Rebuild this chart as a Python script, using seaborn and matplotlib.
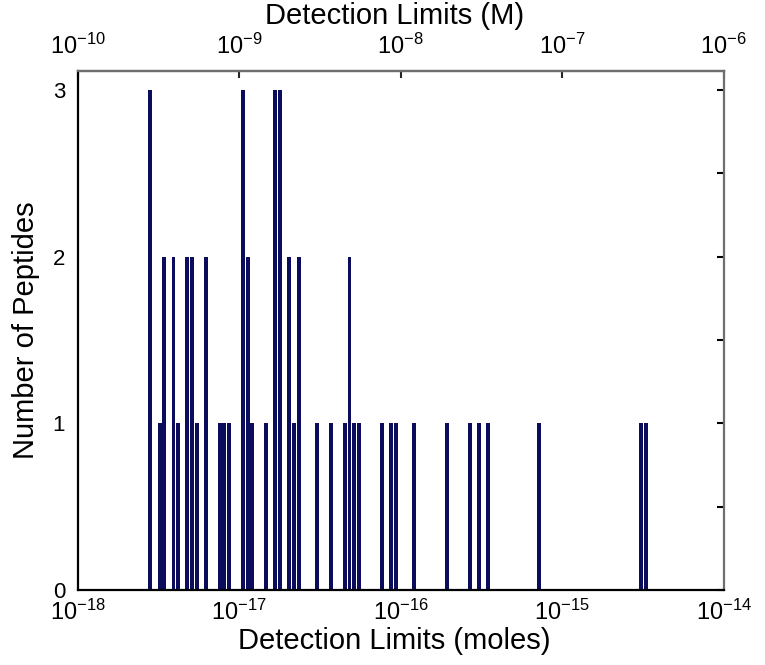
import numpy as np
import pandas as pd
import matplotlib
matplotlib.use("Agg")
import matplotlib.pyplot as plt
import seaborn as sns
from matplotlib.ticker import NullLocator, MultipleLocator, FixedLocator

# --- data: detection limit (moles) and number of peptides ---
limits_moles = [2.82e-18, 3.22e-18, 3.44e-18, 3.92e-18, 4.19e-18, 4.78e-18, 5.11e-18,
                5.45e-18, 6.22e-18, 7.59e-18, 8.10e-18, 8.66e-18, 1.05e-17, 1.13e-17,
                1.20e-17, 1.47e-17, 1.68e-17, 1.79e-17, 2.04e-17, 2.18e-17, 2.33e-17,
                3.04e-17, 3.70e-17, 4.51e-17, 4.82e-17, 5.15e-17, 5.50e-17, 7.65e-17,
                8.73e-17, 9.32e-17, 1.21e-16, 1.93e-16, 2.68e-16, 3.06e-16, 3.49e-16,
                7.22e-16, 3.08e-15, 3.29e-15]
n_peptides = [3, 1, 2, 2, 1, 2, 2,
              1, 2, 1, 1, 1, 3, 2,
              1, 1, 3, 3, 2, 1, 2,
              1, 1, 1, 2, 1, 1, 1,
              1, 1, 1, 1, 1, 1, 1,
              1, 1, 1]
moles_ticks = [1e-18, 1e-17, 1e-16, 1e-15, 1e-14]
molar_ticks = [1e-10, 1e-9, 1e-8, 1e-7, 1e-6]
count_ticks = [0, 1, 2, 3]
sample_volume_l = 1e-8  # moles -> M on the top axis

df = pd.DataFrame({"limit": limits_moles, "count": n_peptides})

sns.set_style("white")
plt.rcParams["font.family"] = ["Liberation Sans", "DejaVu Sans"]
plt.rcParams["mathtext.default"] = "regular"

fig = plt.figure(figsize=(7.65, 6.65), dpi=100)
ax = fig.add_axes([0.1015, 0.1128, 0.8445, 0.7805])

# log-spaced bins (~0.0287 decades wide), matlab-style hist
bw = 0.02867
start = np.log10(limits_moles[0]) - bw / 2
sns.histplot(data=df, x="limit", weights="count", log_scale=True,
             binwidth=bw, binrange=(start, start + 108 * bw), shrink=0.85,
             color="#0b0d5c", alpha=1, linewidth=0, edgecolor="none", ax=ax)

ax.set_xlim(moles_ticks[0], moles_ticks[-1])
ax.set_ylim(0, 3.114)
ax.xaxis.set_major_locator(FixedLocator(moles_ticks))
ax.xaxis.set_minor_locator(NullLocator())
ax.yaxis.set_major_locator(FixedLocator(count_ticks))
ax.yaxis.set_minor_locator(MultipleLocator(0.5))
ax.set_yticklabels([str(t) for t in count_ticks])

ax.tick_params(axis="both", which="both", direction="in", length=5, width=1.5,
               top=False, right=True, color="black", labelcolor="black")
ax.tick_params(axis="x", labelsize=17, pad=7)
ax.tick_params(axis="y", labelsize=16, pad=9)

ax.set_xlabel("Detection Limits (moles)", fontsize=21, color="black")
ax.xaxis.set_label_coords(0.49, -0.072)
ax.set_ylabel("Number of Peptides", fontsize=21, labelpad=9, color="black")

for side in ["left", "bottom"]:
    ax.spines[side].set_color("black")
    ax.spines[side].set_linewidth(1.6)
for side in ["top", "right"]:
    ax.spines[side].set_color("#6e6e6e")
    ax.spines[side].set_linewidth(1.6)

# top axis in molar concentration
secax = ax.secondary_xaxis("top", functions=(lambda x: x / sample_volume_l,
                                             lambda x: x * sample_volume_l))
secax.set_xscale("log")
secax.xaxis.set_major_locator(FixedLocator(molar_ticks))
secax.xaxis.set_minor_locator(NullLocator())
secax.tick_params(direction="in", length=5, width=1.5, labelsize=17, pad=9,
                  labelcolor="black")
secax.spines["top"].set_color("#6e6e6e")
secax.spines["top"].set_linewidth(1.6)
secax.set_xlabel("Detection Limits (M)", fontsize=21, color="black")
secax.xaxis.set_label_coords(0.49, 1.09, transform=ax.transAxes)

fig.savefig("out.png", dpi=100)
